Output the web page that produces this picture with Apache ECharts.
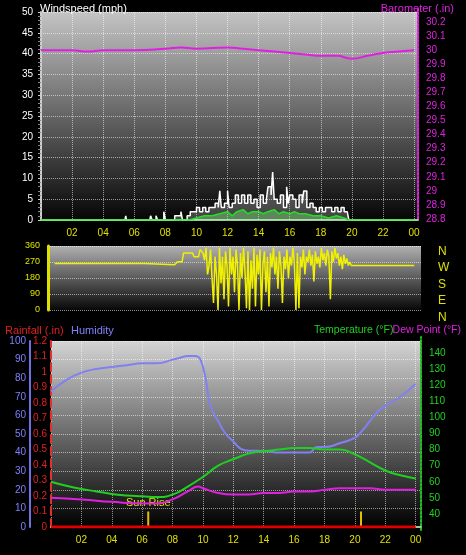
<!DOCTYPE html>
<html><head><meta charset="utf-8">
<script src="https://cdn.jsdelivr.net/npm/echarts@6/dist/echarts.min.js"></script>
<style>html,body{margin:0;background:#000}#c{width:466px;height:555px}</style>
</head><body><div id="c"></div>
<script>
const windGust=[[0,0],[5.4,0],[5.45,1],[5.5,0],[7,0],[7.05,1],[7.15,0],[7.4,1],[7.5,0],[7.9,2],[8,0],[8.6,1],[8.8,1],[9,2],[9.1,0],[9.4,1],[9.6,2],[9.8,2],[10,3],[10.2,2],[10.4,3],[10.6,2],[10.8,3],[11,3],[11.2,4],[11.4,3],[11.5,7],[11.6,3],[11.8,4],[12,7],[12.1,3],[12.3,4],[12.5,6],[12.7,4],[12.9,6],[13.1,4],[13.3,6],[13.5,4],[13.7,5],[13.9,3],[14.1,6],[14.3,4],[14.5,5],[14.6,8],[14.8,6],[14.9,11.5],[15.0,5],[15.2,4],[15.4,6],[15.6,3],[15.8,8],[15.9,4],[16.0,6],[16.2,5],[16.4,3],[16.6,6],[16.8,4],[16.9,7],[17.1,3],[17.3,4],[17.5,3],[17.7,2],[17.9,3],[18.1,2],[18.3,3],[18.5,3],[18.7,2],[18.9,3],[19.1,2],[19.3,3],[19.5,2],[19.7,2],[19.8,0],[24,0]];
const windAvg=[[0,0],[9.5,0],[10,0.5],[10.5,1],[11,1],[11.5,1.5],[12,2],[12.3,1],[12.6,2],[13,2.5],[13.3,1.5],[13.6,2],[14,2],[14.3,1.5],[14.6,2],[15,2.5],[15.3,1.5],[15.6,2],[16,1.5],[16.3,2],[16.6,1.5],[17,1.5],[17.5,1],[18,1],[18.5,0.5],[19,1],[19.5,0.5],[19.8,0],[24,0]];
const baro=[[0,30.0],[2,30.0],[3,29.99],[4,30.0],[6,30.0],[8,30.01],[9,30.02],[10,30.01],[12,30.02],[13,30.01],[14,30.0],[16,29.98],[17,29.97],[18,29.96],[19,29.96],[20,29.94],[21,29.96],[22,29.98],[23,29.99],[24,30.0]];
const windDir=[[0,262],[6,262],[6.1,255],[8,255],[8.2,272],[8.5,272],[8.6,320],[9.2,320],[9.3,300],[9.6,300],[9.7,340],[9.9,320],[10.0,280],[10.1,350],[10.2,200],[10.3,250],[10.4,340],[10.5,180],[10.6,40],[10.7,300],[10.8,200],[10.9,0],[11.0,350],[11.1,150],[11.2,300],[11.3,60],[11.4,330],[11.5,250],[11.6,20],[11.7,350],[11.8,200],[11.9,300],[12.0,100],[12.1,340],[12.2,250],[12.3,0],[12.4,320],[12.5,180],[12.6,350],[12.7,220],[12.8,10],[12.9,330],[13.0,0],[13.1,280],[13.2,120],[13.3,350],[13.4,20],[13.5,310],[13.6,200],[13.7,340],[13.8,0],[13.9,260],[14.0,330],[14.1,100],[14.2,300],[14.3,20],[14.4,320],[14.5,240],[14.6,350],[14.7,200],[14.8,300],[14.9,120],[15.0,330],[15.1,250],[15.2,40],[15.3,300],[15.4,230],[15.5,340],[15.6,180],[15.7,300],[15.8,250],[15.9,350],[16.0,260],[16.1,0],[16.2,320],[16.3,10],[16.4,300],[16.5,240],[16.6,340],[16.7,200],[16.8,300],[16.9,270],[17.0,340],[17.1,250],[17.2,310],[17.3,160],[17.4,330],[17.5,260],[17.6,300],[17.7,240],[17.8,350],[17.9,280],[18.0,320],[18.1,250],[18.2,340],[18.3,300],[18.4,60],[18.5,330],[18.6,270],[18.7,350],[18.8,290],[18.9,320],[19.0,250],[19.1,300],[19.2,230],[19.3,310],[19.4,260],[19.5,290],[19.6,250],[19.7,270],[19.8,250],[24,250]];
const humidity=[[0,73],[1,79],[2,83],[3,85],[4,86],[5,87],[6,88],[7,88],[8,90],[8.5,91],[9,92],[9.5,92],[10,86],[10.5,65],[11,57],[11.5,50],[12,46],[12.5,42],[13,41],[14,41],[15,40],[16,40],[17,40],[17.5,43],[18,43],[19,45],[20,48],[20.5,52],[21,57],[21.5,62],[22,65],[23,70],[24,77]];
const temperature=[[0,60],[1,57.5],[2,55.5],[3,54],[4,52.4],[5,51.5],[6,51],[7,50.5],[8,52],[9,57],[10,63],[11,70],[12,74],[13,77.5],[14,79],[15,80],[16,81],[17,81],[18,80],[19,80],[20,77],[21,72],[22,67],[23,64],[24,62]];
const dewPoint=[[0,50],[2,49],[4,47.5],[6,46.5],[7,46.5],[8,49],[9,54],[9.7,57],[10,56],[11,53],[12,52],[13,52],[14,53],[15,53],[16,54],[17,54],[18,55],[19,56],[20,56],[21,56],[22,55],[23,55],[24,55]];
const rainfall=[[0,0],[24,0]];
const sunEvents=[[6.4,0.1],[20.4,0.1]];
const hourLabels=['02','04','06','08','10','12','14','16','18','20','22','00'];

const F='Liberation Sans, Arial, sans-serif';
const bg=(a,b)=>({type:'linear',x:0,y:0,x2:0,y2:1,colorStops:[{offset:0,color:a},{offset:1,color:b}]});
const dotted={lineStyle:{color:'rgba(255,255,255,0.55)',type:'dotted',width:1}};
const dec=v=>(Math.round(v*10)/10).toFixed(1).replace(/\.0$/,'');
const xfmt=v=>hourLabels[Math.round(v/2)-1]||'';
function xAx(gi,min,max,show){return {type:'value',gridIndex:gi,min:min,max:max,interval:2,
 axisLine:{show:show,lineStyle:{color:'#9c9',width:2}},axisTick:{show:false},
 axisLabel:{show:show,color:'#e0e000',fontSize:10,fontFamily:F,formatter:v=>(v>0&&v<=24&&v%2===0)?xfmt(v):'',showMaxLabel:false},
 splitLine:{show:show,...dotted}};}
const tt=(text,left,top,color,extra)=>({text,left,top,textStyle:{color,fontSize:11,fontWeight:'normal',fontFamily:F,...(extra||{})}});
const chart=echarts.init(document.getElementById('c'));
chart.setOption({
 backgroundColor:'#000',animation:false,
 title:[
  tt('Windspeed (mph)',35,-2,'#fff'),
  {text:'Barometer (.in)',right:7,top:-2,textStyle:{color:'#e020e0',fontSize:11,fontWeight:'normal',fontFamily:F}},
  tt('Rainfall (.in)',0,320,'#e02020'),
  tt('Humidity',66,320,'#8080ff'),
  tt('Temperature (°F)',309,320,'#20d020',{fontSize:10.5}),
  {text:'Dew Point (°F)',right:0,top:320,textStyle:{color:'#e020e0',fontSize:10.5,fontWeight:'normal',fontFamily:F}},
  tt('N\nW\nS\nE\nN',433,238,'#e0e000',{fontSize:12,lineHeight:16.5})
 ],
 grid:[
  {left:41,right:48,top:12,bottom:335,show:true,borderWidth:0,backgroundColor:bg('#c4c4c4','#050505')},
  {left:41,right:48,top:8,bottom:336,show:false},
  {left:48,right:45,top:246,bottom:245,show:true,borderWidth:0,backgroundColor:bg('#b0b0b0','#080808')},
  {left:51,right:45,top:341,bottom:28,show:true,borderWidth:0,backgroundColor:bg('#d4d4d4','#000')},
  {left:51,right:45,top:337,bottom:25,show:false}
 ],
 xAxis:[
  xAx(0,0,24.25,true),
  {type:'value',gridIndex:1,min:0,max:24.25,show:false},
  {type:'value',gridIndex:2,min:-0.45,max:24.45,show:false},
  xAx(3,0,24.35,true),
  {type:'value',gridIndex:4,min:0,max:24.35,show:false}
 ],
 yAxis:[
  {type:'value',gridIndex:0,min:0,max:50,interval:5,axisLine:{show:true,onZero:false,lineStyle:{color:'#ccc',width:2}},axisTick:{show:true,length:3},minorTick:{show:true,splitNumber:5,lineStyle:{color:'#888'}},
   axisLabel:{color:'#fff',fontSize:10,fontFamily:F,margin:8},splitLine:dotted},
  {type:'value',gridIndex:1,min:28.8,max:30.3,interval:0.1,position:'right',axisLine:{show:true,onZero:false,lineStyle:{color:'#e020e0',type:'dotted',width:2}},axisTick:{show:false},
   axisLabel:{color:'#e020e0',fontSize:10,fontFamily:F,showMaxLabel:false,formatter:v=>dec(v)},splitLine:{show:false}},
  {type:'value',gridIndex:2,min:0,max:360,interval:90,axisLine:{show:true,onZero:false,lineStyle:{color:'#e0e000',width:3}},axisTick:{show:false},
   axisLabel:{color:'#e0e000',fontSize:9,fontFamily:F},splitLine:dotted},
  {type:'value',gridIndex:3,min:0,max:100,interval:10,position:'left',offset:21,axisLine:{show:true,onZero:false,lineStyle:{color:'#7070e0',width:2}},axisTick:{show:false},
   axisLabel:{color:'#8080ff',fontSize:10,fontFamily:F,margin:4},splitLine:dotted},
  {type:'value',gridIndex:3,min:0,max:1.2,interval:0.1,position:'left',axisLine:{show:true,onZero:false,lineStyle:{color:'#e03030',type:'dashed',width:2}},axisTick:{show:false},
   axisLabel:{color:'#e02020',fontSize:10,fontFamily:F,margin:4,formatter:v=>dec(v)},splitLine:{show:false}},
  {type:'value',gridIndex:4,min:30,max:150,interval:10,position:'right',axisLine:{show:true,onZero:false,lineStyle:{color:'#20c020',type:'dotted',width:2}},axisTick:{show:false},
   axisLabel:{color:'#20d020',fontSize:10,fontFamily:F,formatter:v=>(v>=40&&v<=140)?v:''},splitLine:{show:false}}
 ],
 series:[
  {type:'line',xAxisIndex:0,yAxisIndex:0,data:windGust,symbol:'none',step:'end',lineStyle:{color:'#fff',width:1.5},areaStyle:{color:'rgba(255,255,255,0.35)'}},
  {type:'line',xAxisIndex:0,yAxisIndex:0,data:windAvg,symbol:'none',lineStyle:{color:'#20e020',width:1.5},areaStyle:{color:'rgba(140,255,140,0.5)'}},
  {type:'line',xAxisIndex:1,yAxisIndex:1,data:baro,symbol:'none',smooth:true,lineStyle:{color:'#e020e0',width:2}},
  {type:'line',xAxisIndex:2,yAxisIndex:2,data:windDir,symbol:'none',lineStyle:{color:'#f0f000',width:1.5}},
  {type:'line',xAxisIndex:3,yAxisIndex:3,data:humidity,symbol:'none',smooth:true,lineStyle:{color:'#8080f0',width:2}},
  {type:'line',xAxisIndex:3,yAxisIndex:4,data:rainfall,symbol:'none',lineStyle:{color:'#e00000',width:3}},
  {type:'bar',xAxisIndex:3,yAxisIndex:4,data:sunEvents,barWidth:2,itemStyle:{color:'#e0c000'},
   label:{show:true,position:'top',formatter:p=>p.dataIndex===0?'Sun Rise':'',color:'#e0e000',fontSize:11,fontFamily:F,distance:3}},
  {type:'line',xAxisIndex:4,yAxisIndex:5,data:temperature,symbol:'none',smooth:true,lineStyle:{color:'#20d020',width:2}},
  {type:'line',xAxisIndex:4,yAxisIndex:5,data:dewPoint,symbol:'none',smooth:true,lineStyle:{color:'#e020e0',width:2}}
 ]
});
</script></body></html>
